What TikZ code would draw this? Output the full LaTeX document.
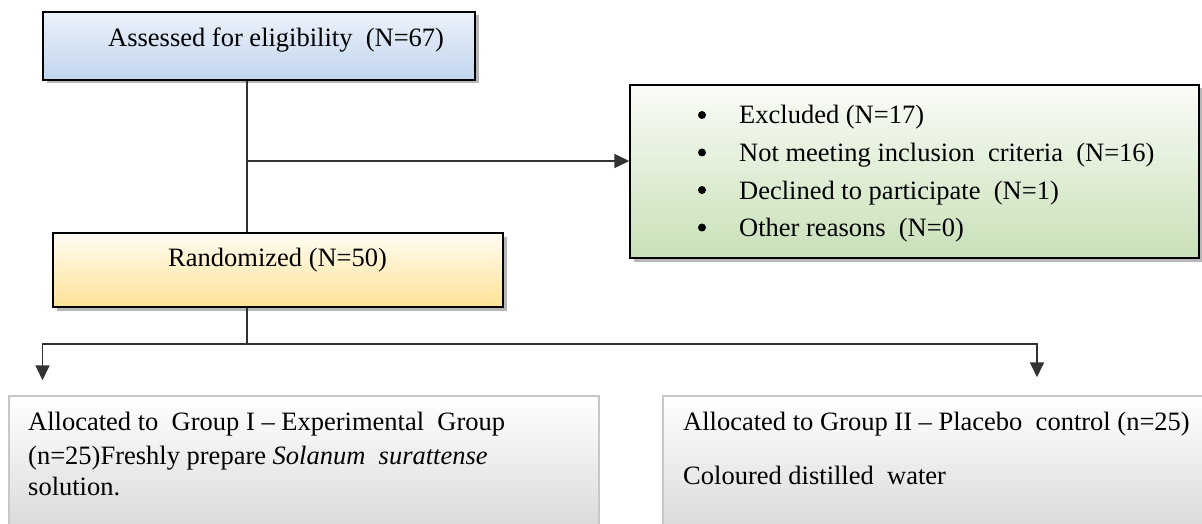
\documentclass[tikz,border=0pt]{standalone}
\usepackage{fontspec}
\setmainfont{Liberation Serif}
\usetikzlibrary{arrows.meta,shadows}
\definecolor{blueTop}{RGB}{236,242,250}
\definecolor{blueBot}{RGB}{192,212,238}
\definecolor{greenTop}{RGB}{250,252,247}
\definecolor{greenBot}{RGB}{200,224,184}
\definecolor{yelTop}{RGB}{255,252,242}
\definecolor{yelBot}{RGB}{254,226,150}
\definecolor{grayTop}{RGB}{255,255,255}
\definecolor{grayBot}{RGB}{216,216,216}
\definecolor{lineCol}{RGB}{50,50,50}
\begin{document}
\begin{tikzpicture}[x=1pt,y=-1pt,
  mainbox/.style={draw=black,line width=1.5pt,inner sep=0pt,
    drop shadow={shadow xshift=3.5pt,shadow yshift=-3.5pt,fill=black!40,opacity=0.7}},
  groupbox/.style={draw=black!22,line width=1.5pt,inner sep=0pt,top color=grayTop,bottom color=grayBot},
  txt/.style={inner sep=0pt,anchor=base west,font=\fontsize{26.5pt}{32pt}\selectfont},
  bul/.style={circle,fill=black,inner sep=0pt,minimum size=8pt},
  conn/.style={draw=lineCol,line width=1.8pt},
  arr/.style={conn,-{Triangle[length=15pt,width=14pt]}}]
\clip (0,0) rectangle (1202,524);
\fill[white] (0,0) rectangle (1202,524);

% boxes
\node[mainbox,top color=blueTop,bottom color=blueBot,minimum width=432pt,minimum height=68pt] (assess) at (259,46) {};
\node[mainbox,top color=greenTop,bottom color=greenBot,minimum width=569pt,minimum height=173pt] (excl) at (914.5,171.5) {};
\node[mainbox,top color=yelTop,bottom color=yelBot,minimum width=450pt,minimum height=74pt] (rand) at (278,270) {};
\node[groupbox,minimum width=590pt,minimum height=140pt] (g1) at (304,466) {};
\node[groupbox,minimum width=560pt,minimum height=140pt] (g2) at (943,466) {};

% texts
\node[txt] (t1) at (108,47) {Assessed for eligibility\ \ (N=67)};
\node[bul] (eb1) at (702,115) {};
\node[bul] (eb2) at (702,152.5) {};
\node[bul] (eb3) at (702,190) {};
\node[bul] (eb4) at (702,227.5) {};
\node[txt] (e1) at (739,124) {Excluded (N=17)};
\node[txt] (e2) at (739,161.5) {Not meeting inclusion\ \ criteria\ \ (N=16)};
\node[txt] (e3) at (739,199) {Declined to participate\ \ (N=1)};
\node[txt] (e4) at (739,236.5) {Other reasons\ \ (N=0)};
\node[txt] (t2) at (168,266) {Randomized (N=50)};
\node[txt] (a1) at (28,430.7) {Allocated to\ \ Group I -- Experimental\ \ Group};
\node[txt] (a2) at (28,464) {(n=25)Freshly prepare \textit{Solanum\ \ surattense}};
\node[txt] (a3) at (28,495) {solution.};
\node[txt] (b1) at (683,430.7) {Allocated to Group II -- Placebo\ \ control (n=25)};
\node[txt] (b2) at (683,484.3) {Coloured distilled\ \ water};

% connectors
\coordinate (trunk) at (247,0);
\coordinate (branch) at (247,161);
\coordinate (split) at (247,344);
\coordinate (leftc) at (42.5,344);
\coordinate (rightc) at (1037,344);
\draw[conn] (assess.south -| trunk) -- (rand.north -| trunk);
\draw[arr] (branch) -- (excl.west |- branch);
\draw[conn] (rand.south -| trunk) -- (split);
\draw[arr] (split) -- (leftc) -- ([yshift=15pt]g1.north -| leftc);
\draw[arr] (split) -- (rightc) -- ([yshift=18pt]g2.north -| rightc);
\end{tikzpicture}
\end{document}
